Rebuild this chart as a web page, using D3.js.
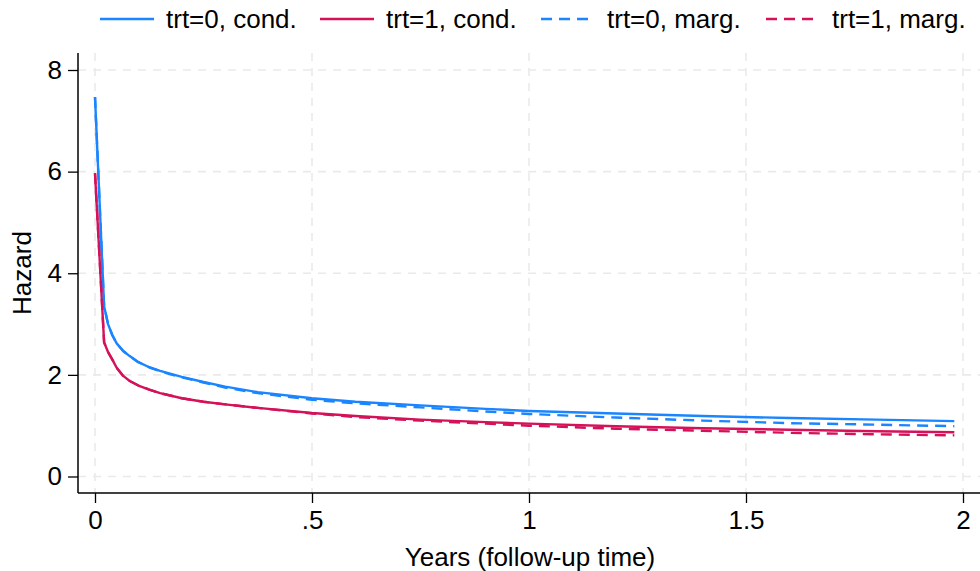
<!DOCTYPE html>
<html>
<head>
<meta charset="utf-8">
<script src="https://cdn.jsdelivr.net/npm/d3@7"></script>
<style>
  html, body { margin: 0; padding: 0; background: #fff; }
  svg { display: block; }
  text { font-family: "Liberation Sans", Arial, Helvetica, sans-serif; fill: #000; }
</style>
</head>
<body>
<svg id="chart" width="980" height="571"></svg>
<script>
// ---- data ----
const times = [0, 0.021, 0.03, 0.04, 0.05, 0.065, 0.08, 0.1, 0.125, 0.15, 0.2, 0.25, 0.3, 0.375, 0.5, 0.6, 0.75, 0.9, 1.0, 1.2, 1.4, 1.6, 1.8, 1.98];
const trt0Cond = [7.47, 3.35, 3.00, 2.78, 2.62, 2.47, 2.37, 2.25, 2.15, 2.08, 1.96, 1.86, 1.77, 1.66, 1.54, 1.47, 1.40, 1.33, 1.29, 1.24, 1.19, 1.15, 1.12, 1.09];
const trt1Cond = [5.97, 2.64, 2.45, 2.30, 2.14, 1.98, 1.88, 1.79, 1.71, 1.64, 1.54, 1.47, 1.42, 1.35, 1.25, 1.19, 1.12, 1.07, 1.04, 0.99, 0.95, 0.92, 0.89, 0.87];
const trt0Marg = [7.47, 3.35, 3.00, 2.78, 2.62, 2.47, 2.37, 2.25, 2.15, 2.07, 1.95, 1.85, 1.75, 1.64, 1.51, 1.44, 1.36, 1.28, 1.23, 1.16, 1.10, 1.05, 1.02, 0.99];
const trt1Marg = [5.97, 2.64, 2.45, 2.30, 2.14, 1.98, 1.88, 1.79, 1.71, 1.64, 1.54, 1.47, 1.42, 1.35, 1.24, 1.17, 1.10, 1.04, 1.00, 0.94, 0.90, 0.86, 0.83, 0.81];
const seriesNames = ["trt=0, cond.", "trt=1, cond.", "trt=0, marg.", "trt=1, marg."];
const xTicks = [0, 0.5, 1, 1.5, 2];
const xTickLabels = ["0", ".5", "1", "1.5", "2"];
const yTicks = [0, 2, 4, 6, 8];
const yTickLabels = ["0", "2", "4", "6", "8"];

// ---- styles ----
const blue = "#1a85ff", red = "#d41159";
const series = [
  { name: seriesNames[0], values: trt0Cond, color: blue, dash: null },
  { name: seriesNames[1], values: trt1Cond, color: red, dash: null },
  { name: seriesNames[2], values: trt0Marg, color: blue, dash: "11,7" },
  { name: seriesNames[3], values: trt1Marg, color: red, dash: "11,7" }
];

const svg = d3.select("#chart");
const plot = { left: 78, right: 980, top: 53, bottom: 493 };
const x = d3.scaleLinear().domain([0, 2]).range([95, 963]);
const y = d3.scaleLinear().domain([0, 8]).range([476.5, 70]);
const FS = 26;

// grid
const grid = svg.append("g");
grid.selectAll("line.h").data(yTicks).join("line")
  .attr("x1", plot.left).attr("x2", plot.right)
  .attr("y1", d => y(d)).attr("y2", d => y(d))
  .attr("stroke", "#eaeaea").attr("stroke-width", 1.6).attr("stroke-dasharray", "8,7");
grid.selectAll("line.v").data(xTicks).join("line")
  .attr("y1", plot.top).attr("y2", plot.bottom)
  .attr("x1", d => x(d)).attr("x2", d => x(d))
  .attr("stroke", "#eaeaea").attr("stroke-width", 1.6).attr("stroke-dasharray", "8,7");

// lines
const line = d3.line().x((d, i) => x(times[i])).y(d => y(d));
svg.append("g").selectAll("path").data(series).join("path")
  .attr("d", s => line(s.values))
  .attr("fill", "none")
  .attr("stroke", s => s.color)
  .attr("stroke-width", 2.4)
  .attr("stroke-linejoin", "round")
  .attr("stroke-dasharray", s => s.dash);

// axes
const xAxis = d3.axisBottom(x).tickValues(xTicks).tickFormat((d, i) => xTickLabels[i]).tickSize(10).tickPadding(8).tickSizeOuter(0);
const gx = svg.append("g").attr("transform", `translate(0,${plot.bottom})`).call(xAxis);
gx.select(".domain").attr("d", `M${plot.left},0H${plot.right}`).attr("stroke", "#000").attr("stroke-width", 1.5);
gx.selectAll(".tick line").attr("stroke", "#000").attr("stroke-width", 1.3);
gx.selectAll(".tick text").attr("font-size", FS).attr("font-family", "Liberation Sans, Arial, sans-serif").attr("fill", "#000");

const yAxis = d3.axisLeft(y).tickValues(yTicks).tickFormat((d, i) => yTickLabels[i]).tickSize(10).tickPadding(6).tickSizeOuter(0);
const gy = svg.append("g").attr("transform", `translate(${plot.left},0)`).call(yAxis);
gy.select(".domain").attr("d", `M0,${plot.top}V${plot.bottom}`).attr("stroke", "#000").attr("stroke-width", 1.5);
gy.selectAll(".tick line").attr("stroke", "#000").attr("stroke-width", 1.3);
gy.selectAll(".tick text").attr("font-size", FS).attr("font-family", "Liberation Sans, Arial, sans-serif").attr("fill", "#000");

// axis titles
svg.append("text").attr("x", 530).attr("y", 566).attr("text-anchor", "middle")
  .attr("font-size", FS).text("Years (follow-up time)");
svg.append("text").attr("transform", "translate(31,273) rotate(-90)").attr("text-anchor", "middle")
  .attr("font-size", FS).text("Hazard");

// legend
const legendX = [100, 320, 541, 766];
const lg = svg.append("g").selectAll("g").data(series).join("g")
  .attr("transform", (d, i) => `translate(${legendX[i]},19)`);
lg.append("line").attr("x1", 0).attr("x2", 54).attr("y1", 0).attr("y2", 0)
  .attr("stroke", d => d.color).attr("stroke-width", 2.4).attr("stroke-dasharray", d => d.dash);
lg.append("text").attr("x", 66).attr("y", 9).attr("font-size", FS).text(d => d.name);
</script>
</body>
</html>
